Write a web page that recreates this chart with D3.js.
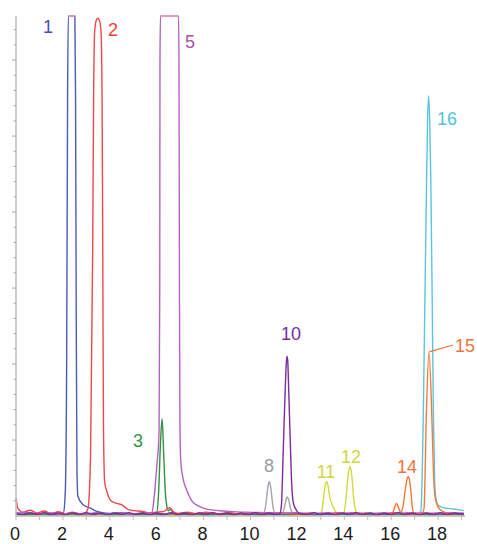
<!DOCTYPE html>
<html>
<head>
<meta charset="utf-8">
<script src="https://cdn.jsdelivr.net/npm/d3@7"></script>
<style>
  html, body { margin: 0; padding: 0; background: #fff; }
  svg { display: block; }
  text { font-family: "Liberation Sans", Arial, sans-serif; }
</style>
</head>
<body>
<div id="chart"></div>
<script>
// Retention time (min) vs detector response, one trace per channel.
const timeTicks = d3.range(0, 20);           // minor ticks every minute
const timeLabels = [0, 2, 4, 6, 8, 10, 12, 14, 16, 18];
const responseTicks = d3.range(2, 66, 2);    // unlabelled response ticks

// [time, response] samples for each channel
const traceBlue = [[0,0.5],[0.25,0.2],[0.6,0.4],[1.0,0.25],[1.4,0.4],[1.8,0.2],[2.02,0.4],[2.1,3],[2.16,20],[2.2,55],[2.23,80],[2.37,95],[2.51,80],[2.54,55],[2.57,25],[2.6,6],[2.64,2.6],[2.85,1.5],[3.2,1.0],[3.45,0.6],[4.0,0.35],[4.5,0.45],[5.0,0.25],[5.6,0.4],[6.2,0.2],[6.8,0.35],[7.4,0.2],[8.0,0.4],[8.6,0.25],[9.2,0.35],[9.8,0.2],[10.4,0.3],[11.0,0.2],[11.6,0.35],[12.2,0.25],[12.8,0.3],[13.4,0.2],[14.0,0.35],[14.6,0.25],[15.2,0.3],[15.8,0.2],[16.4,0.35],[17.0,0.25],[17.6,0.3],[18.2,0.2],[18.8,0.3],[19.1,0.25]];

const traceRed = [[0,2.4],[0.08,1.0],[0.3,0.5],[0.6,0.75],[0.9,0.4],[1.2,0.65],[1.5,0.3],[1.8,0.55],[2.1,0.3],[2.4,0.5],[2.7,0.3],[2.95,0.4],[3.07,1],[3.18,8],[3.27,35],[3.31,55],[3.35,63.5],[3.42,65.2],[3.49,65.5],[3.56,65.2],[3.63,63.5],[3.67,55],[3.7,35],[3.73,12],[3.78,4.5],[3.9,3],[4.05,2],[4.25,1.7],[4.5,1.5],[4.75,0.9],[5.0,0.7],[5.4,0.6],[5.7,0.4],[6.0,0.5],[6.3,0.6],[6.45,0.9],[6.55,1.1],[6.7,0.6],[6.9,0.35],[7.3,0.5],[7.7,0.3],[8.1,0.5],[8.6,0.3],[9.1,0.45],[9.6,0.25],[10.1,0.4],[10.7,0.3],[11.3,0.45],[11.9,0.25],[12.5,0.4],[13.1,0.3],[13.7,0.45],[14.3,0.25],[14.9,0.4],[15.5,0.3],[16.1,0.45],[16.7,0.25],[17.3,0.4],[17.9,0.3],[18.5,0.4],[19.1,0.3]];

const traceGreen = [[0,0.3],[0.5,0.15],[1.0,0.3],[1.6,0.15],[2.2,0.3],[2.8,0.2],[3.4,0.35],[4.0,0.15],[4.6,0.3],[5.2,0.2],[5.8,0.3],[6.0,0.4],[6.08,3],[6.16,9.5],[6.23,12.8],[6.3,8],[6.37,3],[6.44,1.2],[6.5,0.7],[6.58,0.9],[6.7,0.4],[6.9,0.2],[7.5,0.3],[8.1,0.15],[8.7,0.3],[9.3,0.2],[9.9,0.3],[10.5,0.15],[11.1,0.3],[11.7,0.2],[12.3,0.3],[12.9,0.15],[13.5,0.3],[14.1,0.2],[14.7,0.3],[15.3,0.15],[15.9,0.3],[16.5,0.2],[17.1,0.3],[17.7,0.15],[18.3,0.3],[19.1,0.2]];

const traceMagenta = [[0,0.3],[0.4,0.5],[0.9,0.25],[1.4,0.45],[1.9,0.2],[2.4,0.4],[2.9,0.25],[3.4,0.45],[3.9,0.2],[4.4,0.4],[4.9,0.25],[5.4,0.4],[5.79,0.4],[5.88,2.1],[6.0,6.4],[6.1,11],[6.13,30],[6.14,60],[6.16,80],[6.5,100],[6.93,80],[6.95,60],[6.97,30],[6.99,12],[7.03,7],[7.12,5],[7.28,3.4],[7.5,2.0],[7.8,1.3],[8.13,0.9],[8.7,0.7],[9.26,0.57],[10.0,0.48],[10.7,0.43],[11.3,0.35],[11.9,0.45],[12.5,0.3],[13.1,0.4],[13.7,0.3],[14.3,0.45],[14.9,0.3],[15.5,0.4],[16.1,0.3],[16.7,0.45],[17.3,0.3],[17.9,0.4],[18.5,0.3],[19.1,0.4]];

const traceGray = [[0,0.2],[0.7,0.35],[1.4,0.2],[2.1,0.3],[2.8,0.2],[3.5,0.3],[4.2,0.2],[4.9,0.35],[5.6,0.2],[6.3,0.3],[7.0,0.2],[7.7,0.3],[8.4,0.2],[9.1,0.35],[9.8,0.2],[10.55,0.3],[10.64,1.2],[10.72,3.3],[10.77,4.3],[10.8,4.5],[10.83,4.3],[10.88,3.3],[10.96,1.2],[11.04,0.4],[11.35,0.35],[11.45,1.2],[11.52,2.2],[11.57,2.5],[11.63,2.1],[11.72,0.9],[11.8,0.4],[12.4,0.25],[13.1,0.35],[13.8,0.2],[14.5,0.3],[15.2,0.2],[15.9,0.3],[16.6,0.2],[17.3,0.3],[18.0,0.2],[18.7,0.3],[19.1,0.2]];

const tracePurple = [[0,0.35],[0.3,0.15],[0.6,0.4],[0.9,0.2],[1.2,0.45],[1.5,0.2],[1.8,0.4],[2.1,0.15],[2.4,0.4],[2.7,0.2],[3.0,0.45],[3.3,0.2],[3.6,0.4],[3.9,0.15],[4.2,0.4],[4.5,0.2],[4.8,0.45],[5.1,0.2],[5.4,0.4],[5.7,0.15],[6.0,0.4],[6.3,0.2],[6.6,0.45],[6.9,0.2],[7.2,0.4],[7.5,0.15],[7.8,0.4],[8.1,0.2],[8.4,0.45],[8.7,0.2],[9.0,0.4],[9.3,0.15],[9.6,0.4],[9.9,0.2],[10.2,0.45],[10.5,0.2],[10.8,0.4],[11.1,0.2],[11.25,0.3],[11.32,1.5],[11.4,9],[11.49,17.5],[11.53,20.3],[11.56,21],[11.59,20.3],[11.63,16.5],[11.69,10.5],[11.76,4],[11.83,1.7],[11.95,0.8],[12.05,0.4],[12.4,0.2],[12.7,0.45],[13.0,0.2],[13.3,0.4],[13.6,0.15],[13.9,0.4],[14.2,0.2],[14.5,0.45],[14.8,0.2],[15.1,0.4],[15.4,0.15],[15.7,0.4],[16.0,0.2],[16.3,0.45],[16.6,0.2],[16.9,0.4],[17.2,0.15],[17.5,0.4],[17.8,0.2],[18.1,0.45],[18.4,0.2],[18.7,0.4],[19.1,0.2]];

const traceYellow = [[0,0.1],[0.8,0.05],[1.6,0.12],[2.4,0.05],[3.2,0.1],[4.0,0.05],[4.8,0.1],[5.6,0.05],[6.4,0.1],[7.2,0.05],[8.0,0.1],[8.8,0.05],[9.6,0.1],[10.4,0.05],[11.2,0.1],[12.0,0.05],[12.6,0.1],[12.95,0.2],[13.05,0.8],[13.14,3],[13.21,4.3],[13.25,4.5],[13.29,4.2],[13.35,3.1],[13.42,2],[13.52,1.2],[13.65,0.5],[13.8,0.2],[13.98,0.4],[14.08,2.5],[14.16,5.4],[14.21,6.3],[14.24,6.5],[14.28,6.2],[14.33,5],[14.4,2.3],[14.48,0.8],[14.6,0.2],[15.2,0.1],[16.0,0.05],[16.8,0.1],[17.6,0.05],[18.4,0.1],[19.1,0.05]];

const traceOrange = [[0,0.3],[0.6,0.15],[1.2,0.3],[1.8,0.2],[2.4,0.35],[3.0,0.15],[3.6,0.3],[4.2,0.2],[4.8,0.3],[5.4,0.15],[6.0,0.3],[6.6,0.2],[7.2,0.35],[7.8,0.15],[8.4,0.3],[9.0,0.2],[9.6,0.3],[10.2,0.15],[10.8,0.3],[11.4,0.2],[12.0,0.3],[12.6,0.15],[13.2,0.3],[13.8,0.2],[14.4,0.35],[15.0,0.15],[15.6,0.3],[15.95,0.3],[16.06,0.4],[16.15,1.2],[16.23,1.7],[16.3,1.2],[16.4,0.5],[16.5,1.2],[16.6,3.5],[16.69,5],[16.73,5.2],[16.77,4.9],[16.84,3.3],[16.9,1.2],[16.97,0.4],[17.3,0.3],[17.4,1],[17.5,13.5],[17.61,21.6],[17.73,13.5],[17.8,6],[17.87,2.5],[17.98,1.3],[18.15,0.7],[18.4,0.4],[18.8,0.3],[19.1,0.2]];

const traceCyan = [[0,0.2],[0.8,0.3],[1.6,0.15],[2.4,0.3],[3.2,0.2],[4.0,0.3],[4.8,0.15],[5.6,0.3],[6.4,0.2],[7.2,0.3],[8.0,0.15],[8.8,0.3],[9.6,0.2],[10.4,0.3],[11.2,0.15],[12.0,0.3],[12.8,0.2],[13.6,0.3],[14.4,0.15],[15.2,0.3],[16.0,0.2],[16.8,0.3],[17.15,0.3],[17.26,0.6],[17.32,5],[17.37,13.5],[17.43,27],[17.49,40],[17.55,52],[17.6,55.3],[17.65,51],[17.69,44],[17.75,28],[17.8,13.5],[17.85,5],[17.9,2.5],[18.01,1.4],[18.2,1.1],[18.4,1.0],[18.93,0.8],[19.1,0.7]];

// Drawing order and colours
const traces = [
  { data: traceYellow,  color: "#d3da3c" },
  { data: traceGray,    color: "#a3a3aa" },
  { data: traceCyan,    color: "#5cc5dc" },
  { data: traceOrange,  color: "#f27a3e" },
  { data: traceGreen,   color: "#2f9441" },
  { data: traceBlue,    color: "#4a5cb9" },
  { data: traceRed,     color: "#f2474a" },
  { data: traceMagenta, color: "#b462bf" },
  { data: tracePurple,  color: "#7a2c9c" }
];

// Peak numbers, placed in time/response units
const peakNames  = ["1", "2", "3", "5", "8", "10", "11", "12", "14", "15", "16"];
const peakLabelT = [1.36, 4.14, 5.2, 7.42, 10.79, 11.73, 13.22, 14.29, 16.67, 19.15, 18.38];
const peakLabelV = [63.55, 63.16, 9.08, 61.58, 5.79, 23.16, 5.0, 6.97, 5.66, 21.58, 51.45];
const peakColors = ["#3d50ab", "#f2403e", "#2f9441", "#a551b1", "#9b9ba2", "#7a2c9c", "#d0d83a", "#d0d83a", "#f2743a", "#f2743a", "#52c1dc"];
// Leader line from peak 15's apex to its number
const leader15 = [[17.62, 21.6], [18.64, 22.5]];

const W = 477, H = 544;
const svg = d3.select("#chart").append("svg").attr("width", W).attr("height", H);

const x = d3.scaleLinear().domain([0, 19]).range([16, 461.55]);
const y = d3.scaleLinear().domain([0, 65.8]).range([516, 16]).clamp(true);
const yMax = y.domain()[1];

const axisColor = "#bdbdbd";

// Traces
const line = d3.line().x(d => x(d[0])).y(d => y(d[1])).curve(d3.curveMonotoneX);
svg.append("g").selectAll("path").data(traces).join("path")
  .attr("d", d => line(d.data))
  .attr("fill", "none")
  .attr("stroke", d => d.color)
  .attr("stroke-width", 1.4)
  .attr("stroke-linejoin", "round");

// Off-scale peaks: a light cap where the trace runs past the top of the range
const caps = traces.map(tr => tr.data.filter(d => d[1] >= yMax)).filter(s => s.length > 1);
svg.append("g").selectAll("line").data(caps).join("line")
  .attr("x1", s => x(s[0][0])).attr("x2", s => x(s[s.length - 1][0]))
  .attr("y1", y(yMax)).attr("y2", y(yMax))
  .attr("stroke", "#f3a3b0").attr("stroke-width", 1.4);

// Bottom axis
const xAxis = svg.append("g").attr("transform", `translate(0,${y(0)})`);
xAxis.append("line").attr("x1", x(0)).attr("x2", x(19.15)).attr("y1", 0).attr("y2", 0)
  .attr("stroke", axisColor).attr("stroke-width", 1.5);
xAxis.selectAll("line.tick").data(timeTicks).join("line").attr("class", "tick")
  .attr("x1", d => x(d)).attr("x2", d => x(d)).attr("y1", 0).attr("y2", 4)
  .attr("stroke", axisColor).attr("stroke-width", 1);
xAxis.selectAll("text").data(timeLabels).join("text")
  .attr("x", d => x(d) - 1).attr("y", 24)
  .attr("text-anchor", "middle").attr("font-size", 18).attr("fill", "#1c1c1c")
  .text(d => d);

// Left axis
const yAxis = svg.append("g").attr("transform", `translate(${x(0)},0)`);
yAxis.append("line").attr("x1", 0).attr("x2", 0).attr("y1", y(0)).attr("y2", y(yMax))
  .attr("stroke", axisColor).attr("stroke-width", 1.5);
yAxis.selectAll("line.tick").data(responseTicks).join("line").attr("class", "tick")
  .attr("x1", d => d % 10 === 0 ? -4 : -2.5).attr("x2", 0)
  .attr("y1", d => y(d)).attr("y2", d => y(d))
  .attr("stroke", "#aaaaaa").attr("stroke-width", 1);

// Peak numbers
svg.append("g").selectAll("text").data(peakNames).join("text")
  .attr("x", (d, i) => x(peakLabelT[i]))
  .attr("y", (d, i) => y(peakLabelV[i]))
  .attr("text-anchor", "middle").attr("font-size", 18)
  .attr("fill", (d, i) => peakColors[i])
  .text(d => d);

svg.append("path")
  .attr("d", d3.line().x(d => x(d[0])).y(d => y(d[1]))(leader15))
  .attr("stroke", "#f2743a").attr("stroke-width", 1.2).attr("fill", "none");
</script>
</body>
</html>
